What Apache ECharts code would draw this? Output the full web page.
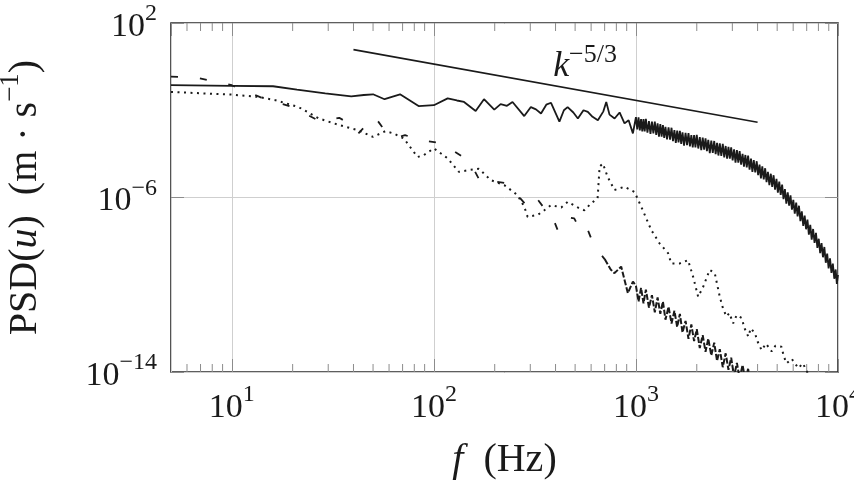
<!DOCTYPE html>
<html>
<head>
<meta charset="utf-8">
<script src="https://cdn.jsdelivr.net/npm/echarts@6/dist/echarts.min.js"></script>
<style>
html, body { margin: 0; padding: 0; background: #fff; }
#chart { width: 854px; height: 481px; }
</style>
</head>
<body>
<div id="chart"></div>
<script>
// PSD curves (f in Hz, PSD in m·s^-1)
// solid curve, smooth-ish part below 1 kHz
var freqSolidLo = [5, 10, 16, 21, 29, 39, 45, 50, 57, 68, 84, 100, 117, 130, 141, 161, 177, 199, 214, 230,
    245, 280, 302, 320, 339, 360, 380, 418, 440, 459, 490, 516, 550, 578, 610, 648, 690, 713, 740, 784,
    830, 878, 920, 966];
var psdSolidLo = [0.141, 0.132, 0.126, 0.089, 0.060, 0.043, 0.050, 0.054, 0.032, 0.054, 0.0155, 0.017, 0.035, 0.028, 0.024, 0.0093, 0.032, 0.0107, 0.019, 0.016,
    0.024, 0.0054, 0.014, 0.011, 0.0071, 0.018, 0.022, 0.0030, 0.010, 0.014, 0.0079, 0.0042, 0.010, 0.0085, 0.005, 0.0035, 0.0089, 0.024, 0.0063, 0.0042,
    0.0079, 0.0025, 0.0035, 0.00087];
// solid curve, noisy band above 1 kHz
var freqSolidHi = [1000, 1015, 1030, 1045, 1060, 1075, 1090, 1105, 1120, 1140, 1160, 1180, 1200, 1220, 1240, 1260, 1280, 1300, 1320, 1340,
    1360, 1380, 1400, 1425, 1450, 1475, 1500, 1525, 1550, 1575, 1600, 1625, 1650, 1675, 1700, 1730, 1760, 1790, 1820, 1850,
    1880, 1910, 1940, 1970, 2000, 2035, 2070, 2105, 2140, 2175, 2210, 2245, 2280, 2320, 2360, 2400, 2440, 2480, 2520, 2560,
    2600, 2645, 2690, 2735, 2780, 2825, 2870, 2915, 2960, 3010, 3060, 3110, 3160, 3210, 3260, 3315, 3370, 3425, 3480, 3535,
    3590, 3650, 3710, 3770, 3830, 3895, 3960, 4025, 4090, 4155, 4220, 4290, 4360, 4430, 4500, 4575, 4650, 4725, 4800, 4880,
    4960, 5040, 5120, 5205, 5290, 5375, 5460, 5550, 5640, 5730, 5820, 5915, 6010, 6110, 6210, 6310, 6410, 6515, 6620, 6730,
    6840, 6950, 7060, 7175, 7290, 7410, 7530, 7655, 7780, 7905, 8030, 8160, 8290, 8425, 8560, 8700, 8840, 8985, 9130, 9280,
    9430, 9585, 9740, 9870, 10000];
var psdSolidHi = [4.8e-3, 1.33e-3, 4.7e-3, 1.19e-3, 3.9e-3, 1.06e-3, 3.9e-3, 1.08e-3, 4.0e-3, 9.5e-4, 3.2e-3, 8.3e-4, 3.0e-3, 8.6e-4, 3.0e-3, 7.4e-4, 2.5e-3, 6.1e-4, 2.3e-3, 6.2e-4,
    2.1e-3, 5.4e-4, 1.74e-3, 4.6e-4, 1.66e-3, 4.5e-4, 1.58e-3, 3.8e-4, 1.23e-3, 3.2e-4, 1.17e-3, 3.35e-4, 1.15e-3, 2.9e-4, 9.8e-4, 2.4e-4, 9.1e-4, 2.5e-4, 8.9e-4, 2.2e-4,
    7.2e-4, 2.0e-4, 7.2e-4, 2.0e-4, 7.4e-4, 1.76e-4, 5.8e-4, 1.5e-4, 5.5e-4, 1.55e-4, 5.2e-4, 1.32e-4, 4.4e-4, 1.08e-4, 4.1e-4, 1.12e-4, 3.9e-4, 9.8e-5, 3.2e-4, 8.4e-5,
    3.0e-4, 8.1e-5, 2.9e-4, 6.9e-5, 2.3e-4, 6.0e-5, 2.1e-4, 6.0e-5, 2.0e-4, 5.0e-5, 1.62e-4, 4.0e-5, 1.5e-4, 4.0e-5, 1.35e-4, 3.2e-5, 1.0e-4, 2.6e-5, 8.9e-5, 2.4e-5,
    8.3e-5, 1.9e-5, 6.0e-5, 1.5e-5, 5.2e-5, 1.4e-5, 4.6e-5, 1.06e-5, 3.2e-5, 7.6e-6, 2.7e-5, 6.8e-6, 2.2e-5, 5.1e-6, 1.5e-5, 3.7e-6, 1.23e-5, 3.1e-6, 1.05e-5, 2.3e-6,
    7.1e-6, 1.66e-6, 5.4e-6, 1.32e-6, 3.9e-6, 8.4e-7, 2.4e-6, 5.2e-7, 1.74e-6, 4.2e-7, 1.26e-6, 2.75e-7, 7.8e-7, 1.8e-7, 5.8e-7, 1.35e-7, 4.2e-7, 8.3e-8, 2.3e-7, 5.0e-8,
    1.48e-7, 3.5e-8, 9.8e-8, 2.0e-8, 5.6e-8, 1.16e-8, 3.6e-8, 8.3e-9, 2.4e-8, 4.9e-9, 1.29e-8, 2.8e-9, 8.1e-9, 1.82e-9, 5.4e-9, 1.02e-9, 2.7e-9, 5.6e-10, 1.62e-9, 3.5e-10,
    9.3e-10, 1.88e-10, 5.0e-10, 1.1e-10, 2.8e-10];

// dashed curve: smooth low-frequency part and noisy high-frequency part
var freqDashedLo = [5, 6.8, 10, 14, 20, 27.5, 34, 38, 42, 47, 51, 57, 67, 72, 88, 108, 127, 149, 160, 171,
    191, 227, 259, 286, 314, 352, 380, 410, 443, 495, 546, 580, 624, 700];
var psdDashedLo = [3.5e-1, 3.0e-1, 1.4e-1, 3.8e-2, 1.4e-2, 3.0e-3, 4.5e-3, 2.5e-3, 8e-4, 2.5e-3, 5e-3, 1.2e-3, 6e-4, 7.2e-4, 4e-4, 3.2e-4, 1.23e-4, 4.8e-5, 1.5e-5, 4.7e-6,
    5.9e-6, 4.5e-6, 1.3e-6, 4.5e-7, 1.3e-6, 3.2e-7, 1.9e-7, 3.2e-8, 1.3e-7, 1.1e-7, 1.9e-8, 3e-8, 5.5e-9, 1.5e-9];
var freqDashedHi = [700, 750, 783, 845, 912, 966,
    1000, 1030, 1060, 1090, 1120, 1160, 1200, 1240, 1280, 1320, 1360, 1400, 1450, 1500, 1550, 1600, 1650, 1700, 1760, 1820,
    1880, 1940, 2000, 2070, 2140, 2210, 2280, 2360, 2440, 2520, 2600, 2690, 2780, 2870, 2960, 3060, 3160, 3260, 3370, 3480,
    3590, 3710, 3830];
var psdDashedHi = [1.5e-9, 5e-10, 3.4e-10, 6.8e-10, 4.1e-11, 1.4e-10,
    8.9e-11, 1.7e-11, 7.2e-11, 1.4e-11, 6.0e-11, 8.9e-12, 3.3e-11, 5.5e-12, 2.6e-11, 4.7e-12, 1.7e-11, 2.5e-12, 9.8e-12, 1.66e-12, 6.5e-12, 1.15e-12, 4.6e-12, 6.5e-13, 2.2e-12, 3.3e-13,
    1.5e-12, 2.6e-13, 9.1e-13, 1.26e-13, 4.9e-13, 8.5e-14, 3.4e-13, 5.8e-14, 2.2e-13, 3.2e-14, 1.1e-13, 1.66e-14, 7.2e-14, 1.26e-14, 4.5e-14, 6.3e-15, 2.6e-14, 5e-15, 2.1e-14, 4e-15,
    1.4e-14, 2.5e-15, 3e-15];

var freqDotted = [5, 10, 13.5, 16.4, 21.4, 27, 34, 42, 50, 57.5, 63, 71, 83, 89, 100, 117, 133, 149, 167, 191,
    223, 259, 280, 291, 327, 352, 380, 427, 460, 515, 556, 600, 646, 661, 686, 724, 783, 877, 984, 1062,
    1191, 1309, 1442, 1496, 1648, 1811, 1919, 2032, 2153, 2317, 2455, 2600, 2700, 2805, 2900, 3027, 3150, 3334, 3450, 3597,
    3700, 3882, 4000, 4188, 4400, 4699, 4900, 5248, 5400, 5572, 5900, 6368, 6700, 7130];
var psdDotted = [6.9e-2, 5.2e-2, 4.1e-2, 2.9e-2, 1.4e-2, 4.2e-3, 2.1e-3, 1.23e-3, 6.0e-4, 1.1e-3, 8.7e-4, 5.1e-4, 7.2e-5, 8.7e-5, 1.8e-4, 6.2e-5, 1.5e-5, 1.8e-5, 2.1e-5, 6.3e-6,
    3.7e-6, 1.3e-6, 3.8e-7, 1.3e-7, 1.6e-7, 2.6e-7, 4.5e-7, 3.5e-7, 6.3e-7, 3.5e-7, 2.6e-7, 5.4e-7, 9.1e-7, 2.6e-5, 3.6e-5, 8.9e-6, 2.2e-6, 3.1e-6, 1.8e-6, 3.8e-7,
    3.2e-8, 7.9e-9, 2.8e-9, 9.5e-10, 9.5e-10, 1.35e-9, 2.3e-10, 2.8e-11, 8.1e-11, 4.8e-10, 3.4e-10, 2.8e-11, 7.9e-12, 3.5e-12, 5e-12, 1.7e-12, 4e-12, 3e-12, 1e-12, 4.2e-13,
    1e-12, 6e-13, 2.5e-13, 1e-13, 2e-13, 8.7e-14, 1.6e-13, 1.45e-13, 5e-14, 2.5e-14, 4e-14, 1.5e-14, 2.5e-14, 8e-15];

// k^-5/3 reference segment
var freqRef = [40, 4000];
var psdRef = [6.0, 0.0028];

// axis ticks
var xMin = 5, xMax = 10000;
var yMin = 1e-14, yMax = 1e2;
var minorTicksX = [6, 7, 8, 9, 20, 30, 40, 50, 60, 70, 80, 90, 200, 300, 400, 500, 600, 700, 800, 900,
    2000, 3000, 4000, 5000, 6000, 7000, 8000, 9000];

function pairs(xs, ys) {
    return xs.map(function (x, i) { return [x, ys[i]]; });
}

var serif = '"Liberation Serif", "DejaVu Serif", serif';
var ink = '#1a1a1a';
var tickGray = '#8c8c8c';

var powRich = {
    b: { fontSize: 34, fontFamily: serif, color: ink, verticalAlign: 'bottom', lineHeight: 42 },
    s: { fontSize: 24, fontFamily: serif, color: ink, verticalAlign: 'top', lineHeight: 24 }
};

function powLabel(v) {
    var e = Math.round(Math.log10(v));
    return '{b|10}{s|' + (e < 0 ? '\u2212' + (-e) : e) + '}';
}

var myChart = echarts.init(document.getElementById('chart'), null, { renderer: 'canvas' });

var option = {
    animation: false,
    grid: {
        left: 171,
        right: 16,
        top: 23,
        bottom: 109,
        outerBoundsMode: 'none',
        containLabel: false,
        show: true,
        borderColor: '#2a2a2a',
        borderWidth: 1.6,
        backgroundColor: 'transparent'
    },
    xAxis: [{
        type: 'log',
        logBase: 10,
        min: xMin,
        max: xMax,
        position: 'bottom',
        axisLine: { show: false },
        axisTick: { show: true, inside: true, length: 13, lineStyle: { color: tickGray, width: 1 } },
        splitLine: { show: true, lineStyle: { color: '#cfcfcf', width: 1 } },
        axisLabel: {
            showMinLabel: false,
            margin: 11,
            formatter: powLabel,
            rich: powRich
        },
        name: '{i|f}{n|  (Hz)}',
        nameLocation: 'middle',
        nameGap: 68,
        nameTextStyle: {
            rich: {
                i: { fontSize: 40, fontFamily: serif, fontStyle: 'italic', color: ink },
                n: { fontSize: 40, fontFamily: serif, color: ink }
            }
        }
    }, {
        type: 'log',
        logBase: 10,
        min: xMin,
        max: xMax,
        position: 'top',
        axisLine: { show: false },
        axisTick: { show: true, inside: true, length: 13, lineStyle: { color: tickGray, width: 1 } },
        splitLine: { show: false },
        axisLabel: { show: false }
    }],
    yAxis: [{
        type: 'log',
        logBase: 10,
        min: yMin,
        max: yMax,
        interval: 8,
        axisLine: { show: false },
        axisTick: { show: true, inside: true, length: 13, lineStyle: { color: tickGray, width: 1 } },
        splitLine: { show: true, lineStyle: { color: '#cfcfcf', width: 1 } },
        axisLabel: {
            margin: 14,
            formatter: powLabel,
            rich: powRich
        },
        name: '{n|PSD(}{i|u}{n|)  (m \u00b7 s}{s|\u22121}{n|)}',
        nameLocation: 'middle',
        nameRotate: 90,
        nameGap: 126,
        nameTextStyle: {
            rich: {
                n: { fontSize: 40, fontFamily: serif, color: ink, verticalAlign: 'bottom', lineHeight: 48 },
                i: { fontSize: 40, fontFamily: serif, fontStyle: 'italic', color: ink, verticalAlign: 'bottom', lineHeight: 48 },
                s: { fontSize: 27, fontFamily: serif, color: ink, verticalAlign: 'top', lineHeight: 27 }
            }
        }
    }, {
        type: 'log',
        logBase: 10,
        min: yMin,
        max: yMax,
        interval: 8,
        position: 'right',
        axisLine: { show: false },
        axisTick: { show: true, inside: true, length: 13, lineStyle: { color: tickGray, width: 1 } },
        splitLine: { show: false },
        axisLabel: { show: false }
    }],
    series: [{
        name: 'minor ticks',
        type: 'custom',
        silent: true,
        data: minorTicksX.map(function (v) { return [v, yMin]; }),
        renderItem: function (params, api) {
            var x = api.coord([api.value(0), yMin])[0];
            var top = params.coordSys.y;
            var bottom = params.coordSys.y + params.coordSys.height;
            var st = { stroke: tickGray, lineWidth: 1 };
            return {
                type: 'group',
                children: [
                    { type: 'line', shape: { x1: x, y1: bottom, x2: x, y2: bottom - 8 }, style: st },
                    { type: 'line', shape: { x1: x, y1: top, x2: x, y2: top + 8 }, style: st }
                ]
            };
        },
        z: 1
    }, {
        name: 'dotted',
        type: 'line',
        data: pairs(freqDotted, psdDotted),
        showSymbol: false,
        symbol: 'none',
        lineStyle: { color: ink, width: 2, type: [2, 4.5] },
        z: 3
    }, {
        name: 'dashed',
        type: 'line',
        data: pairs(freqDashedLo, psdDashedLo),
        showSymbol: false,
        symbol: 'none',
        lineStyle: { color: ink, width: 1.8, type: [7, 22] },
        z: 4
    }, {
        name: 'dashed',
        type: 'line',
        data: pairs(freqDashedHi, psdDashedHi),
        showSymbol: false,
        symbol: 'none',
        lineStyle: { color: ink, width: 2, type: [6, 2] },
        z: 4
    }, {
        name: 'solid',
        type: 'line',
        data: pairs(freqSolidLo, psdSolidLo).concat(pairs(freqSolidHi, psdSolidHi)),
        showSymbol: false,
        symbol: 'none',
        lineStyle: { color: ink, width: 1.8 },
        z: 5
    }, {
        name: 'k-5/3',
        type: 'line',
        data: pairs(freqRef, psdRef),
        showSymbol: false,
        symbol: 'none',
        lineStyle: { color: ink, width: 1.6 },
        markPoint: {
            symbol: 'circle',
            symbolSize: 0,
            data: [{ coord: [560, 1.4] }],
            label: {
                show: true,
                position: 'inside',
                formatter: '{k|k}{s|\u22125/3}',
                rich: {
                    k: { fontSize: 36, fontFamily: serif, fontStyle: 'italic', color: ink, verticalAlign: 'bottom', lineHeight: 42 },
                    s: { fontSize: 26, fontFamily: serif, color: ink, verticalAlign: 'top', lineHeight: 26 }
                }
            }
        },
        z: 5
    }]
};

myChart.setOption(option);
</script>
</body>
</html>
